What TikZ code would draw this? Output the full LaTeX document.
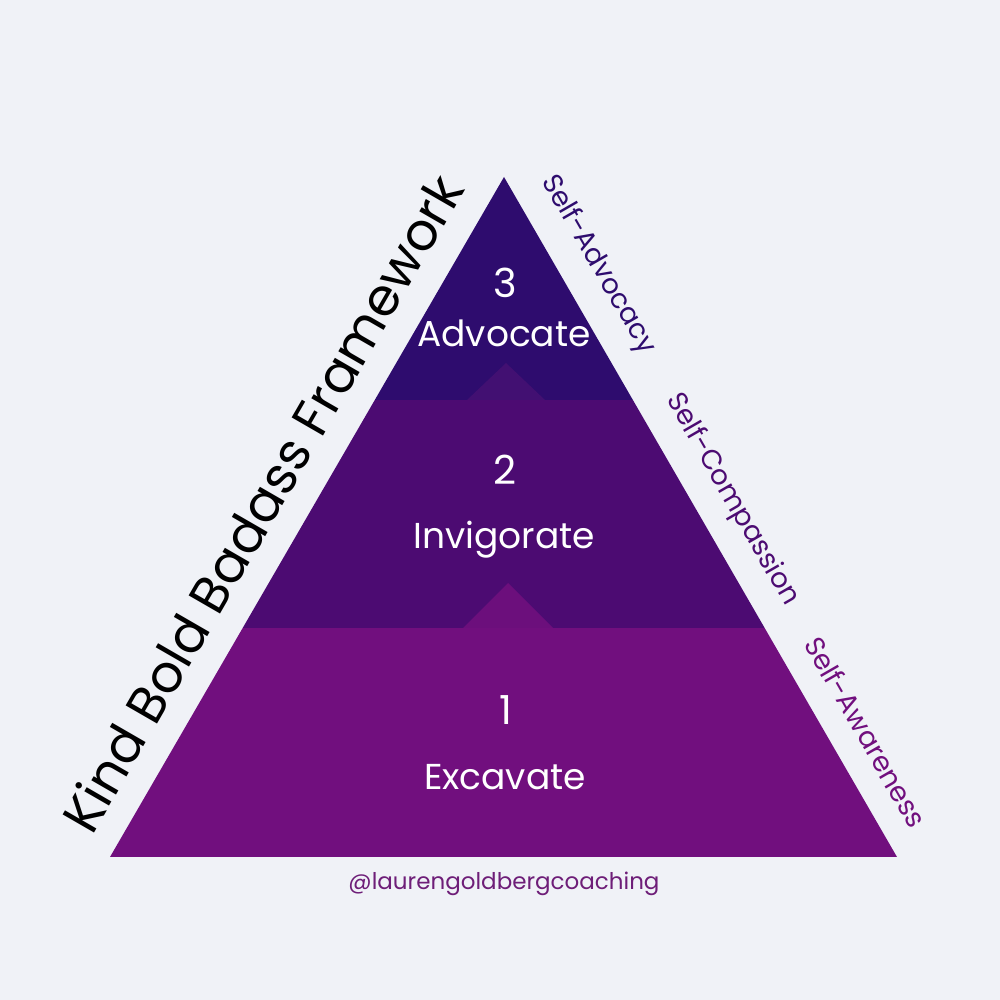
\documentclass[tikz,border=0pt]{standalone}
\usepackage{fontspec}
\setmainfont{Poppins}
\definecolor{bg}{RGB}{240,242,247}
\definecolor{topc}{RGB}{46,12,110}
\definecolor{midc}{RGB}{76,11,114}
\definecolor{botc}{RGB}{113,15,126}
\definecolor{bumpa}{RGB}{66,16,114}
\definecolor{bumpb}{RGB}{108,15,124}
\definecolor{handlec}{RGB}{110,30,120}
\tikzset{
  lvl/.style={text=white, font=\fontsize{36}{42}\selectfont},
  num/.style={text=white, font=\fontsize{40}{46}\selectfont},
  side/.style={rotate=-60, font=\fontsize{27.5}{32}\selectfont},
}
\begin{document}
\begin{tikzpicture}[x=1pt,y=1pt]
\useasboundingbox (0,0) rectangle (1000,1000);
\fill[bg] (0,0) rectangle (1000,1000);
\begin{scope}
\clip (110,143) -- (504,823) -- (897,143) -- cycle;
\fill[botc] (0,0) rectangle (1000,372);
\fill[midc] (0,372) rectangle (1000,600);
\fill[topc] (0,600) rectangle (1000,1000);
\fill[bumpa] (467,600) -- (506,637) -- (545,600) -- cycle;
\fill[bumpb] (463,372) -- (508,417) -- (553,372) -- cycle;
\end{scope}
\node[num] (n3) at (505,717) {3};
\node[lvl] (l3) at (504,667) {Advocate};
\node[num] (n2) at (505,530) {2};
\node[lvl] (l2) at (504,460) {Invigorate};
\node[num] (n1) at (506,290) {1};
\node[lvl] (l1) at (505,223) {Excavate};
\node[rotate=60, font=\fontsize{52}{60}\selectfont] (title) at (262,497) {Kind Bold Badass Framework};
\node[side, text=topc] (sa) at (598,735) {Self-Advocacy};
\node[side, text=midc] (sc) at (732,500) {Self-Compassion};
\node[side, text=botc] (sw) at (866,268) {Self-Awareness};
\node[text=handlec, font=\fontsize{23}{27}\selectfont] (handle) at (504,116) {@laurengoldbergcoaching};
\end{tikzpicture}
\end{document}
